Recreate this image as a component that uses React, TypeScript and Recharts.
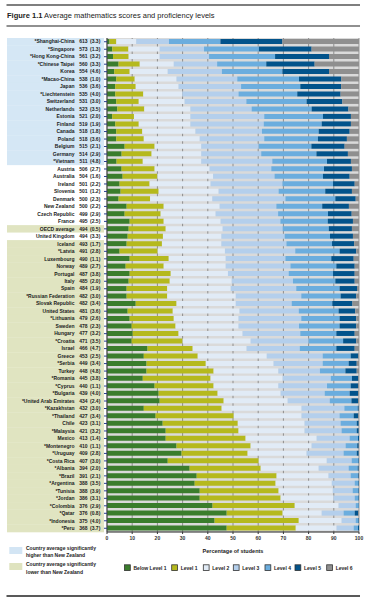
import React from 'react';
import { BarChart, Bar, XAxis, YAxis, CartesianGrid } from 'recharts';

const FONT = "'Liberation Sans', Arial, sans-serif";

// countries in chart order (top to bottom), * = partner country
const countries = [
  '*Shanghai-China', '*Singapore', '*Hong Kong-China', '*Chinese Taipei', 'Korea', '*Macao-China', 'Japan', '*Liechtenstein', 'Switzerland', 'Netherlands',
  'Estonia', 'Finland', 'Canada', 'Poland', 'Belgium', 'Germany', '*Vietnam', 'Austria', 'Australia', 'Ireland',
  'Slovenia', 'Denmark', 'New Zealand', 'Czech Republic', 'France', 'OECD average', 'United Kingdom', 'Iceland', '*Latvia', 'Luxembourg',
  'Norway', 'Portugal', 'Italy', 'Spain', '*Russian Federation', 'Slovak Republic', 'United States', '*Lithuania', 'Sweden', 'Hungary',
  '*Croatia', 'Israel', 'Greece', '*Serbia', 'Turkey', '*Romania', '*Cyprus', '*Bulgaria', '*United Arab Emirates', '*Kazakhstan',
  '*Thailand', 'Chile', '*Malaysia', 'Mexico', '*Montenegro', '*Uruguay', '*Costa Rica', '*Albania', '*Brazil', '*Argentina',
  '*Tunisia', '*Jordan', '*Colombia', '*Qatar', '*Indonesia', '*Peru',
];

const scores = [
  613, 573, 561, 560, 554, 538, 536, 535, 531, 523,
  521, 519, 518, 518, 515, 514, 511, 506, 504, 501,
  501, 500, 500, 499, 495, 494, 494, 493, 491, 490,
  489, 487, 485, 484, 482, 482, 481, 479, 478, 477,
  471, 466, 453, 449, 448, 445, 440, 439, 434, 432,
  427, 423, 421, 413, 410, 409, 407, 394, 391, 388,
  388, 386, 376, 376, 375, 368,
];

const standardErrors = [
  3.3, 1.3, 3.2, 3.3, 4.6, 1.0, 3.6, 4.0, 3.0, 3.5,
  2.0, 1.9, 1.8, 3.6, 2.1, 2.9, 4.8, 2.7, 1.6, 2.2,
  1.2, 2.3, 2.2, 2.9, 2.5, 0.5, 3.3, 1.7, 2.8, 1.1,
  2.7, 3.8, 2.0, 1.9, 3.0, 3.4, 3.6, 2.6, 2.3, 3.2,
  3.5, 4.7, 2.5, 3.4, 4.8, 3.8, 1.1, 4.0, 2.4, 3.0,
  3.4, 3.1, 3.2, 1.4, 1.1, 2.8, 3.0, 2.0, 2.1, 3.5,
  3.9, 3.1, 2.9, 0.8, 4.0, 3.7,
];

// H = higher than NZ, S = not significantly different, O = OECD average, L = lower than NZ
const comparison = [
  'H', 'H', 'H', 'H', 'H', 'H', 'H', 'H', 'H', 'H',
  'H', 'H', 'H', 'H', 'H', 'H', 'H', 'S', 'S', 'S',
  'S', 'S', 'S', 'S', 'S', 'O', 'S', 'L', 'L', 'L',
  'L', 'L', 'L', 'L', 'L', 'L', 'L', 'L', 'L', 'L',
  'L', 'L', 'L', 'L', 'L', 'L', 'L', 'L', 'L', 'L',
  'L', 'L', 'L', 'L', 'L', 'L', 'L', 'L', 'L', 'L',
  'L', 'L', 'L', 'L', 'L', 'L',
];

// percentage of students at each proficiency level
const belowLevel1 = [
  1.0, 2.1, 2.4, 4.6, 2.9, 3.7, 3.3, 3.3, 3.7, 4.1,
  2.1, 3.3, 3.7, 3.7, 7.0, 5.8, 3.8, 5.8, 6.2, 5.0,
  5.4, 4.6, 7.8, 7.0, 9.0, 8.6, 8.2, 7.8, 5.0, 9.0,
  7.4, 9.0, 8.6, 7.8, 7.8, 11.4, 8.2, 9.0, 9.8, 10.2,
  9.8, 16.1, 14.6, 15.7, 15.7, 14.2, 18.9, 20.5, 20.9, 14.6,
  19.3, 22.1, 23.3, 23.3, 27.6, 29.6, 24.1, 32.8, 35.6, 34.8,
  36.8, 36.8, 41.9, 47.5, 42.7, 47.5,
];
const level1 = [
  2.7, 6.4, 6.2, 8.4, 6.1, 7.3, 8.1, 11.1, 8.9, 10.7,
  8.6, 9.3, 10.3, 10.9, 11.9, 11.9, 10.4, 13.1, 13.8, 11.9,
  15.1, 12.5, 14.7, 14.3, 13.5, 14.7, 14.0, 14.0, 15.1, 15.5,
  15.1, 16.3, 16.3, 16.1, 16.1, 16.2, 17.9, 17.5, 17.4, 18.2,
  20.2, 17.9, 21.4, 23.5, 26.6, 26.9, 23.4, 23.4, 25.4, 30.9,
  31.0, 29.8, 28.9, 31.7, 29.4, 26.2, 36.1, 28.2, 31.7, 32.1,
  31.3, 32.1, 32.6, 22.2, 33.4, 27.4,
];
const level2 = [
  7.9, 12.4, 12.3, 13.5, 15.1, 16.6, 17.0, 15.5, 18.2, 18.3,
  22.4, 20.5, 21.1, 22.2, 18.5, 19.7, 23.2, 21.8, 22.1, 24.2,
  23.8, 24.7, 22.2, 21.8, 22.6, 22.6, 23.2, 23.6, 26.7, 22.6,
  24.6, 22.7, 24.6, 25.2, 27.2, 23.5, 26.5, 25.7, 25.0, 25.4,
  27.0, 21.4, 27.4, 26.9, 25.7, 28.6, 25.7, 25.0, 25.4, 31.7,
  26.9, 26.5, 26.2, 28.2, 24.2, 23.4, 27.0, 23.0, 20.6, 22.3,
  21.5, 21.0, 17.4, 15.5, 17.0, 16.2,
];
const level3 = [
  13.0, 17.6, 19.6, 17.2, 21.5, 24.1, 24.8, 22.3, 24.5, 24.3,
  29.3, 29.1, 26.4, 25.6, 22.8, 23.8, 28.2, 24.5, 24.4, 28.5,
  23.8, 29.0, 22.5, 24.8, 23.7, 23.8, 25.1, 25.8, 27.9, 23.7,
  25.7, 24.1, 24.3, 26.0, 26.0, 22.2, 23.5, 24.9, 24.0, 22.9,
  23.0, 21.1, 22.2, 19.5, 16.5, 19.1, 19.3, 17.5, 16.7, 17.0,
  15.1, 14.3, 14.7, 13.1, 13.5, 14.7, 9.9, 11.9, 8.8, 9.1,
  7.9, 8.4, 6.8, 8.7, 5.6, 6.8,
];
const level4 = [
  20.4, 21.8, 26.2, 19.5, 24.0, 24.5, 23.5, 23.3, 23.9, 23.8,
  23.3, 23.0, 22.5, 21.3, 20.9, 21.9, 21.7, 20.9, 19.2, 20.1,
  18.5, 19.8, 18.2, 19.8, 18.8, 18.3, 18.0, 18.1, 17.6, 18.2,
  18.2, 17.6, 16.8, 17.2, 15.6, 16.1, 15.8, 15.2, 16.1, 14.3,
  13.7, 14.5, 11.1, 10.3, 10.1, 8.4, 9.4, 9.9, 8.6, 5.3,
  5.6, 6.4, 6.0, 3.3, 4.6, 5.2, 2.7, 3.6, 2.9, 1.5,
  2.3, 1.5, 1.2, 4.4, 1.1, 1.7,
];
const level5 = [
  24.6, 20.9, 21.4, 19.2, 18.5, 16.8, 16.2, 17.2, 14.2, 14.6,
  11.1, 11.6, 12.3, 11.5, 13.2, 12.5, 9.5, 11.1, 10.6, 8.6,
  10.6, 8.1, 10.6, 9.4, 10.0, 9.2, 9.1, 8.8, 6.6, 8.9,
  7.3, 8.6, 7.7, 6.9, 6.2, 8.0, 6.6, 6.6, 6.6, 7.3,
  5.2, 7.3, 3.0, 3.2, 4.5, 2.5, 2.9, 3.3, 2.6, 0.4,
  1.8, 0.8, 0.8, 0.4, 0.6, 0.8, 0.2, 0.4, 0.3, 0.2,
  0.2, 0.2, 0.1, 1.4, 0.2, 0.4,
];
const level6 = [
  30.4, 18.8, 11.9, 17.6, 11.9, 7.0, 7.1, 7.3, 6.6, 4.2,
  3.2, 3.2, 3.7, 4.8, 5.7, 4.4, 3.2, 2.8, 3.7, 1.7,
  2.8, 1.3, 4.0, 2.9, 2.4, 2.8, 2.4, 1.9, 1.1, 2.1,
  1.7, 1.7, 1.7, 0.8, 1.1, 2.6, 1.5, 1.1, 1.1, 1.7,
  1.1, 1.7, 0.3, 0.9, 0.9, 0.3, 0.4, 0.4, 0.4, 0.1,
  0.3, 0.1, 0.1, 0.0, 0.1, 0.1, 0.0, 0.1, 0.1, 0.0,
  0.0, 0.0, 0.0, 0.3, 0.0, 0.0,
];

const xTicks = [0, 10, 20, 30, 40, 50, 60, 70, 80, 90, 100];

const levelNames = ['Below Level 1', 'Level 1', 'Level 2', 'Level 3', 'Level 4', 'Level 5', 'Level 6'];
const levelKeys = ['belowL1', 'l1', 'l2', 'l3', 'l4', 'l5', 'l6'];
const levelColors = ['#3a7d2c', '#b5b91d', '#e1ebf6', '#b4cfec', '#6badde', '#02538b', '#8f8f8f'];
const levelSeries = [belowLevel1, level1, level2, level3, level4, level5, level6];

const rowFill: Record<string, string> = { H: '#d5e7f5', S: '#ffffff', O: '#e0e4c1', L: '#e0e4c1' };

const rows = countries.map((name, i) => {
  const r: Record<string, string | number> = { name };
  levelKeys.forEach((k, j) => { r[k] = levelSeries[j][i]; });
  return r;
});

const PLOT_TOP = 38;
const PLOT_BOTTOM = 532;
const ROW_H = (PLOT_BOTTOM - PLOT_TOP) / countries.length;

const CountryTick = (props: any) => {
  const { y, payload } = props;
  const i = countries.indexOf(payload.value);
  const txt = { fontSize: 5, fontWeight: 700, fill: '#1c1c1c', fontFamily: FONT } as const;
  return (
    <g>
      <rect x={7} y={y - ROW_H / 2} width={97} height={ROW_H + 0.3} fill={rowFill[comparison[i]]} />
      <text x={74.5} y={y} dy="0.35em" textAnchor="end" {...txt}>{payload.value}</text>
      <text x={87.5} y={y} dy="0.35em" textAnchor="end" {...txt}>{scores[i]}</text>
      <text x={90} y={y} dy="0.35em" textAnchor="start" {...txt}>({standardErrors[i].toFixed(1)})</text>
    </g>
  );
};

const legendX = [124.5, 171.7, 203.3, 233.3, 265, 295, 326.7];

const Decorations = () => (
  <svg width={370} height={601} style={{ position: 'absolute', left: 0, top: 0, pointerEvents: 'none' }}>
    <line x1={6.5} x2={360} y1={5} y2={5} stroke="#555" strokeWidth={1.6} />
    <text x={7} y={18} fontSize={7.5} fill="#222" fontFamily={FONT}>
      <tspan fontWeight={700}>Figure 1.1</tspan> Average mathematics scores and proficiency levels
    </text>
    <line x1={6.5} x2={360} y1={26} y2={26} stroke="#222" strokeWidth={1.2} />

    <rect x={9.3} y={547} width={13} height={7} fill="#d3e5f4" />
    <text x={26} y={549.8} fontSize={5} fontWeight={700} fill="#222" fontFamily={FONT}>Country average significantly</text>
    <text x={26} y={557} fontSize={5} fontWeight={700} fill="#222" fontFamily={FONT}>higher than New Zealand</text>
    <rect x={9.3} y={563} width={13} height={7} fill="#dfe3bf" />
    <text x={26} y={566} fontSize={5} fontWeight={700} fill="#222" fontFamily={FONT}>Country average significantly</text>
    <text x={26} y={573.5} fontSize={5} fontWeight={700} fill="#222" fontFamily={FONT}>lower than New Zealand</text>

    {levelNames.map((n, i) => (
      <g key={n}>
        <rect x={legendX[i]} y={564.8} width={5.8} height={5.8} fill={levelColors[i]} stroke="#333" strokeWidth={0.8} />
        <text x={legendX[i] + 9} y={569.6} fontSize={5} fontWeight={700} fill="#222" fontFamily={FONT}>{n}</text>
      </g>
    ))}

    <line x1={6.5} x2={360} y1={596} y2={596} stroke="#222" strokeWidth={1.5} />
  </svg>
);

export default function App() {
  return (
    <div style={{ position: 'absolute', left: 0, top: 0, width: 370, height: 601, background: '#fff' }}>
      <BarChart
        width={370}
        height={601}
        layout="vertical"
        data={rows}
        margin={{ top: PLOT_TOP, right: 11, bottom: 47, left: 0 }}
        barCategoryGap="14%"
      >
        <CartesianGrid horizontal={false} stroke="#8e8e8e" fill="#dadada" />
        <XAxis
          type="number"
          domain={[0, 100]}
          ticks={xTicks}
          interval={0}
          allowDataOverflow
          height={22}
          tickSize={2}
          tickLine={{ stroke: '#333' }}
          axisLine={{ stroke: '#222', strokeWidth: 1.2 }}
          tick={{ fontSize: 5, fontWeight: 700, fill: '#333', fontFamily: FONT }}
          label={{ value: 'Percentage of students', position: 'insideBottom', offset: 1, fontSize: 5.5, fontWeight: 700, fill: '#222', fontFamily: FONT }}
        />
        <XAxis
          xAxisId="top"
          orientation="top"
          type="number"
          domain={[0, 100]}
          height={0}
          tick={false}
          tickLine={false}
          axisLine={{ stroke: '#111', strokeWidth: 1.5 }}
        />
        <YAxis
          type="category"
          dataKey="name"
          width={107}
          interval={0}
          tick={<CountryTick />}
          tickSize={3}
          tickLine={{ stroke: '#2a3f8f' }}
          axisLine={{ stroke: '#444' }}
        />
        {levelKeys.map((k, i) => (
          <Bar key={k} dataKey={k} name={levelNames[i]} stackId="a" fill={levelColors[i]} isAnimationActive={false} />
        ))}
      </BarChart>
      <Decorations />
    </div>
  );
}
